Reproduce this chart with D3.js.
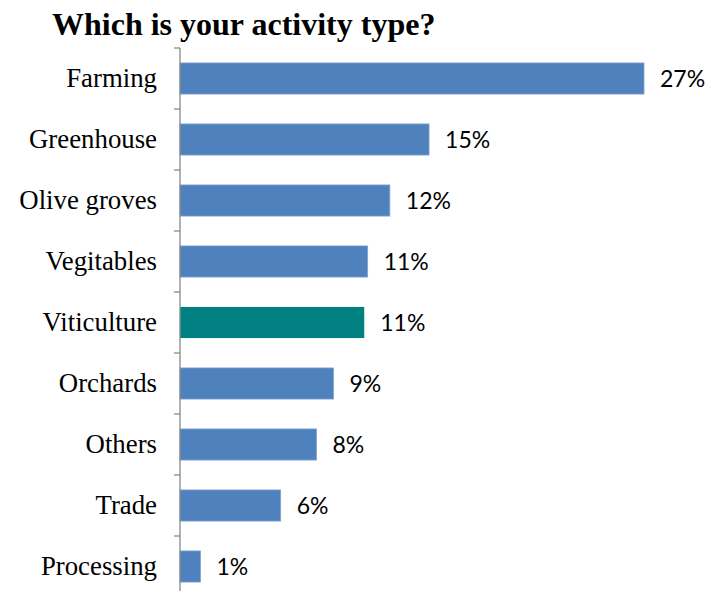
<!DOCTYPE html>
<html>
<head>
<meta charset="utf-8">
<script src="https://cdn.jsdelivr.net/npm/d3@7"></script>
<style>
  body { margin: 0; background: #fff; }
  .cat { font-family: "Liberation Serif", "Times New Roman", serif; font-size: 26.8px; fill: #000; }
  .val { font-family: Lato, "Open Sans", sans-serif; font-size: 23px; fill: #000; }
  .title { font-family: "Liberation Serif", "Times New Roman", serif; font-size: 32px; font-weight: bold; }
</style>
</head>
<body>
<div id="chart"></div>
<script>
const categories = ['Farming', 'Greenhouse', 'Olive groves', 'Vegitables', 'Viticulture', 'Orchards', 'Others', 'Trade', 'Processing'];
const values = [27.2, 14.6, 12.3, 11.0, 10.8, 9.0, 8.0, 5.9, 1.2];
const highlighted = ['Viticulture'];

const width = 720, height = 591;
const margin = { top: 48, left: 180 };

const svg = d3.select('#chart')
  .append('svg')
  .attr('width', width)
  .attr('height', height);

// title
svg.append('text')
  .attr('class', 'title')
  .attr('x', 52)
  .attr('y', 35)
  .text('Which is your activity type?');

const x = d3.scaleLinear()
  .domain([0, 27.2])
  .range([margin.left, 644]);

const y = d3.scaleBand()
  .domain(categories)
  .range([margin.top, margin.top + 61 * categories.length])
  .paddingInner(0.49)
  .paddingOuter(0.245);

// bars
svg.selectAll('rect.bar')
  .data(categories)
  .enter()
  .append('rect')
  .attr('class', 'bar')
  .attr('x', x(0))
  .attr('y', d => y(d))
  .attr('width', (d, i) => x(values[i]) - x(0))
  .attr('height', y.bandwidth())
  .attr('fill', d => highlighted.includes(d) ? '#008080' : '#4F81BD')
  .attr('stroke', d => highlighted.includes(d) ? 'none' : '#7FA3D1')
  .attr('stroke-width', 0.8);

// value labels
svg.selectAll('text.val')
  .data(categories)
  .enter()
  .append('text')
  .attr('class', 'val')
  .attr('x', (d, i) => x(values[i]) + 16)
  .attr('y', d => y(d) + y.bandwidth() / 2)
  .attr('dy', '0.36em')
  .text((d, i) => Math.round(values[i]) + '%');

// category axis
const axisG = svg.append('g')
  .attr('transform', 'translate(' + x(0) + ',0)');
axisG.append('line')
  .attr('x1', 0).attr('x2', 0)
  .attr('y1', margin.top).attr('y2', height)
  .attr('stroke', '#888').attr('stroke-width', 1.3);

// tick marks between categories
const step = y.step();
const tickYs = d3.range(categories.length).map(i => margin.top + i * step);
axisG.selectAll('line.tick')
  .data(tickYs)
  .enter()
  .append('line')
  .attr('class', 'tick')
  .attr('x1', -6).attr('x2', 0)
  .attr('y1', d => d).attr('y2', d => d)
  .attr('stroke', '#888').attr('stroke-width', 1.3);

axisG.selectAll('text.cat')
  .data(categories)
  .enter()
  .append('text')
  .attr('class', 'cat')
  .attr('x', -23)
  .attr('y', d => y(d) + y.bandwidth() / 2)
  .attr('dy', '0.33em')
  .attr('text-anchor', 'end')
  .text(d => d);
</script>
</body>
</html>
